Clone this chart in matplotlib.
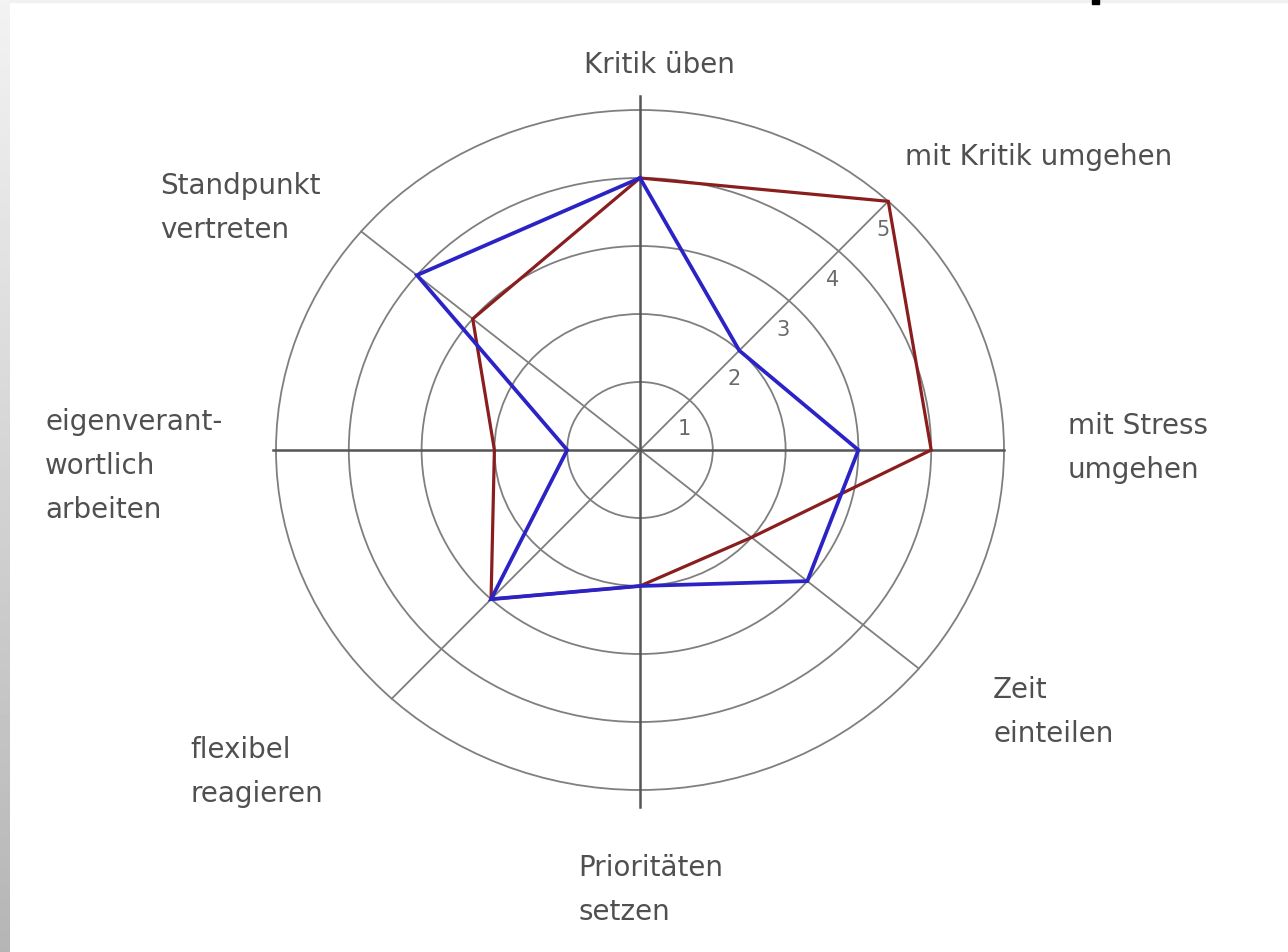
import numpy as np
import matplotlib
matplotlib.use("Agg")
import matplotlib.pyplot as plt
from matplotlib.patches import Circle, Rectangle

# Skill profile on a 1-5 scale, clockwise starting at the top spoke
categories = ["Kritik üben", "mit Kritik umgehen", "mit Stress\numgehen", "Zeit\neinteilen",
              "Prioritäten\nsetzen", "flexibel\nreagieren", "eigenverant-\nwortlich\narbeiten",
              "Standpunkt\nvertreten"]
red_values = [4, 5, 4, 2, 2, 3, 2, 3]
blue_values = [4, 2, 3, 3, 2, 3, 1, 4]
scale_ticks = [1, 2, 3, 4, 5]

# spoke directions (degrees clockwise from top); the NW-SE diagonal is drawn flatter
spoke_deg = [0, 43, 90, 130, 180, 223, 270, 310]
# label anchors in figure fractions (x, y, horizontal alignment)
label_pos = [(0.512, 0.932, "center"), (0.703, 0.835, "left"), (0.829, 0.530, "left"),
             (0.771, 0.253, "left"), (0.449, 0.066, "left"), (0.148, 0.190, "left"),
             (0.035, 0.511, "left"), (0.124, 0.782, "left")]

W, H = 1288, 953
CX, CY = 640, 451          # centre of the web in pixels
PX_X, PX_Y = 72.8, 68.0    # pixels per scale unit


def to_xy(values):
    ang = np.radians(spoke_deg)
    v = np.asarray(values, dtype=float)
    x = v * np.sin(ang)
    y = v * np.cos(ang)
    return np.append(x, x[0]), np.append(y, y[0])


fig = plt.figure(figsize=(W / 100, H / 100), dpi=100)
fig.patch.set_facecolor("white")
ax = fig.add_axes([0, 0, 1, 1])
ax.set_xlim(-CX / PX_X, (W - CX) / PX_X)
ax.set_ylim(-(H - CY) / PX_Y, CY / PX_Y)
ax.axis("off")

grid_col = "#7f7f7f"
for k in scale_ticks:
    ax.add_patch(Circle((0, 0), k, fill=False, ec=grid_col, lw=1.3, zorder=1))

rmax = max(scale_ticks)
# diagonal spokes
for d in (43, 130):
    a = np.radians(d)
    ax.plot([-rmax * np.sin(a), rmax * np.sin(a)], [-rmax * np.cos(a), rmax * np.cos(a)],
            color=grid_col, lw=1.3, zorder=1)
# main cross
ax.plot([0, 0], [-5.25, 5.2], color="#555555", lw=1.8, zorder=1)
ax.plot([-5.04, 5.0], [0, 0], color="#555555", lw=1.8, zorder=1)

# scale numbers along the NE spoke
a = np.radians(spoke_deg[1])
for k in scale_ticks:
    ax.annotate(str(k), xy=(k * np.sin(a), k * np.cos(a)), xytext=(-4, -20),
                textcoords="offset points", ha="center", va="center",
                fontsize=15, color="#6a6a6a")

rx, ry = to_xy(red_values)
bx, by = to_xy(blue_values)
ax.plot(rx, ry, color="#8a1d1d", lw=2.3, solid_joinstyle="miter", zorder=3)
ax.plot(bx, by, color="#2b23c6", lw=2.7, solid_joinstyle="miter", zorder=4)

for name, (fx, fy, ha) in zip(categories, label_pos):
    fig.text(fx, fy, name, ha=ha, va="center", fontsize=20, color="#505050",
             linespacing=1.72, family="DejaVu Sans")

# frame remnants: grey gradient on the left, light band on top
sax = fig.add_axes([0, 0, 10 / W, 1])
sax.imshow(np.linspace(0.95, 0.71, 256)[:, None], cmap="gray", vmin=0, vmax=1, aspect="auto")
sax.axis("off")
fig.patches.append(Rectangle((10 / W, 1 - 3 / H), 1, 3 / H, transform=fig.transFigure,
                             color="#f1f1f1", zorder=0))
fig.patches.append(Rectangle((1092 / W, 1 - 5 / H), 7 / W, 5 / H, transform=fig.transFigure,
                             color="black", zorder=5))

fig.savefig("out.png", dpi=100, facecolor="white")
